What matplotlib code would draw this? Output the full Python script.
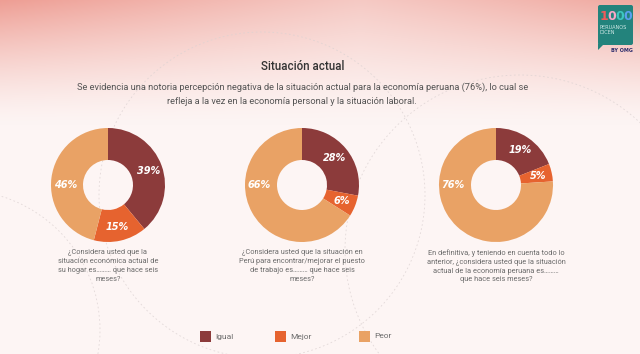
import numpy as np
import matplotlib
matplotlib.use("Agg")
import matplotlib.pyplot as plt
from matplotlib.patches import Circle, Rectangle, FancyBboxPatch, Polygon

# ---- data ----
categories = ["Igual", "Mejor", "Peor"]
colors = ["#8c3b3b", "#e6632f", "#e9a265"]
hogar = [39, 15, 46]
trabajo = [28, 6, 66]
economia = [19, 5, 76]
questions = [
    "¿Considera usted que la\nsituación económica actual de\nsu hogar es……… que hace seis\nmeses?",
    "¿Considera usted que la situación en\nPerú para encontrar/mejorar el puesto\nde trabajo es……… que hace seis\nmeses?",
    "En definitiva, y teniendo en cuenta todo lo\nanterior, ¿considera usted que la situación\nactual de la economía peruana es………\nque hace seis meses?",
]
title = "Situación actual"
subtitle1 = "Se evidencia una notoria percepción negativa de la situación actual para la economía peruana (76%), lo cual se"
subtitle2 = "refleja a la vez en la economía personal y la situación laboral."

W, H = 640, 354
fig = plt.figure(figsize=(6.4, 3.54), dpi=100)
ax = fig.add_axes([0, 0, 1, 1])

# background gradient
yy, xx = np.mgrid[0:H, 0:W]
base = np.array([253, 245, 244]) / 255.0
pink = np.array([238, 158, 148]) / 255.0
edge = 0.5 + 0.5 * (np.abs(xx - 360) / 360.0) ** 1.1
strength = np.clip(1 - yy / 125.0, 0, 1) ** 1.4 * edge
img = base[None, None, :] * (1 - strength[..., None]) + pink[None, None, :] * strength[..., None]
ax.imshow(img, extent=[0, W, 0, H], origin="upper", zorder=0, aspect="auto")

# decorative dashed circles
for (cx, cy, r) in [(262, 354 - 195, 163), (520, 354 - 250, 175), (-40, 354 - 330, 140)]:
    ax.add_patch(Circle((cx, cy), r, fill=False, ls=(0, (2, 3)), lw=0.6,
                        ec="#dcd2d2", alpha=0.8, zorder=1))

centers = [(108, 185), (302, 185), (496, 185)]
datasets = [hogar, trabajo, economia]
R = 57
PD = 0.75
for (cx, cy), vals in zip(centers, datasets):
    wedges, texts, autotexts = ax.pie(
        vals, colors=colors, startangle=90, counterclock=False,
        center=(cx, H - cy), radius=R, wedgeprops=dict(width=32, linewidth=0),
        autopct="%.0f%%", pctdistance=PD, frame=True,
        textprops=dict(color="white", fontsize=7, fontweight="bold", fontstyle="italic"))
    for w in wedges:
        w.set_zorder(3)
    for t in autotexts:
        t.set_zorder(4)
    # the large "Peor" label sits on the left side of the ring
    autotexts[2].set_position((cx - PD * R, H - cy))

for (cx, cy), q in zip(centers, questions):
    ax.text(cx, H - 249, q, ha="center", va="top", fontsize=5.3, color="#6b6b6b",
            linespacing=1.38, family="Roboto", zorder=5)

ax.text(303, H - 67, title, ha="center", va="center", fontsize=8.3, color="#333333",
        family="Roboto", fontweight="medium", zorder=5)
ax.text(303, H - 87, subtitle1, ha="center", va="center", fontsize=6.7, color="#555555",
        family="Roboto", zorder=5)
ax.text(292, H - 101, subtitle2, ha="center", va="center", fontsize=6.7, color="#555555",
        family="Roboto", zorder=5)

# legend
leg_x = [200, 275, 359]
for x, c, lab in zip(leg_x, colors, categories):
    ax.add_patch(Rectangle((x, H - 342), 11, 11, color=c, lw=0, zorder=5))
    ax.text(x + 15, H - 336.5, lab, ha="left", va="center", fontsize=6, color="#6b6b6b",
            family="Roboto", zorder=5)

# logo
ax.add_patch(FancyBboxPatch((598, H - 45), 35, 40, boxstyle="round,pad=0,rounding_size=2",
                            fc="#23837c", ec="none", zorder=5))
ax.add_patch(Polygon([(598, H - 44), (598, H - 50), (604, H - 44)], closed=True,
                     fc="#23837c", ec="none", zorder=5))
for i, (d, c) in enumerate(zip("1000", ["#f05a5a", "#f7a7c8", "#3cc7c0", "#5aa0f0"])):
    ax.text(604 + i * 8, H - 17, d, ha="center", va="center", fontsize=9, color=c,
            fontweight="bold", zorder=6)
ax.text(600, H - 30, "PERUANOS\nDICEN", ha="left", va="center", fontsize=3.6, color="#cfe8e6",
        linespacing=1.1, zorder=6)
ax.text(633, H - 50, "BY OMG", ha="right", va="center", fontsize=3.5, color="#2b2b6b",
        fontweight="bold", zorder=6)

ax.set_xlim(0, W)
ax.set_ylim(0, H)
ax.set_aspect("auto")
ax.axis("off")
fig.savefig("out.png", dpi=100)
